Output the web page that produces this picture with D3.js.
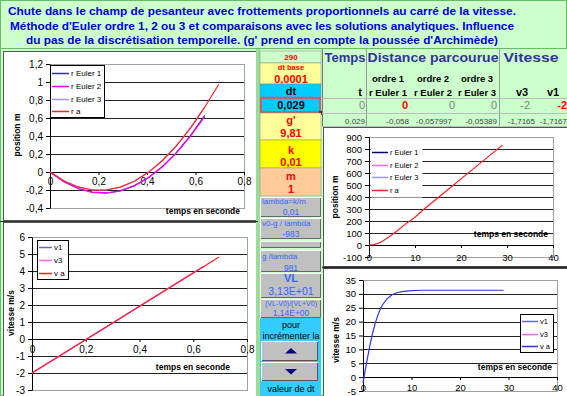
<!DOCTYPE html>
<html>
<head>
<meta charset="utf-8">
<script src="https://d3js.org/d3.v7.min.js"></script>
<style>
  body { margin: 0; background: #ccffcc; overflow: hidden; }
  text { font-family: "Liberation Sans", Arial, sans-serif; }
</style>
</head>
<body>
<svg id="sheet" width="567" height="396"></svg>
<script>
// ---- data ----
const titleLines = [
  "Chute dans le champ de pesanteur avec frottements proportionnels au carré de la vitesse.",
  "Méthode d'Euler ordre 1, 2 ou 3 et comparaisons avec les solutions analytiques. Influence",
  "du pas de la discrétisation temporelle. (g' prend en compte la poussée d'Archimède)"
];

// short run (dt = 0,029)
const tEuler = [0, 0.058, 0.116, 0.174, 0.232, 0.29, 0.348, 0.406, 0.464, 0.522, 0.58, 0.638];
const rEuler1 = [0, -0.108, -0.183, -0.224, -0.233, -0.209, -0.151, -0.061, 0.062, 0.218, 0.408, 0.630];
const rEuler2 = [0, -0.108, -0.184, -0.226, -0.235, -0.211, -0.153, -0.064, 0.058, 0.212, 0.400, 0.615];
const rEuler3 = [0, -0.100, -0.166, -0.200, -0.200, -0.168, -0.102, -0.004, 0.128, 0.292, 0.490, 0.720];
const tAnalytic = [0, 0.058, 0.116, 0.174, 0.232, 0.29, 0.348, 0.406, 0.464, 0.522, 0.58, 0.638, 0.696];
const rAnalytic = [0, -0.100, -0.166, -0.200, -0.200, -0.168, -0.102, -0.004, 0.128, 0.292, 0.490, 0.720, 0.975];
const tVitEuler = [0, 0.638];
const vEuler1 = [-2, 4.26];
const vEuler3 = [-2, 4.26];
const tVitA = [0, 0.696];
const vAnalytic = [-2, 4.83];

// long run
const tLong = [0, 1, 2, 3, 4, 5, 6, 8, 10, 12, 15, 18, 21, 24, 27, 29];
const rLong = [0, 3, 15, 34, 58, 86, 115, 176, 231, 300, 394, 488, 582, 676, 770, 832];
const tVLong = [0, 0.5, 1, 1.5, 2, 2.5, 3, 3.5, 4, 5, 6, 7, 8, 10, 12, 15, 20, 25, 29];
const vLong = [-2, 2.9, 7.6, 12.1, 16, 19.3, 22, 24.3, 26, 28.3, 29.7, 30.4, 30.8, 31.2, 31.3, 31.3, 31.3, 31.3, 31.3];

// tick labels
const xTicksShort = [0, 0.2, 0.4, 0.6, 0.8];
const yTicksPos = [-0.4, -0.2, 0, 0.2, 0.4, 0.6, 0.8, 1, 1.2];
const yTicksVit = [-3, -2, -1, 0, 1, 2, 3, 4, 5, 6];
const xTicksLong = [0, 10, 20, 30, 40];
const yTicksPosLong = [-100, 0, 100, 200, 300, 400, 500, 600, 700, 800, 900];
const yTicksVitLong = [-5, 0, 5, 10, 15, 20, 25, 30, 35];

const posNames = ["r Euler 1", "r Euler 2", "r Euler 3", "r a"];
const vitNames = ["v1", "v3", "v a"];

// table
const tableHeaders = ["Temps", "Distance parcourue", "Vitesse"];
const orderLabels = ["ordre 1", "ordre 2", "ordre 3"];
const colLabels = ["t", "r Euler 1", "r Euler 2", "r Euler 3", "v3", "v1"];
const row0 = ["0", "0", "0", "0", "-2", "-2"];
const row1 = ["0,029", "-0,058", "-0,057997", "-0,05389", "-1,7165", "-1,7167"];

// parameter column: [text, centre y, size, weight, colour, align]
const paramCells = [
  { y0: 51, y1: 63, bg: "#ccffcc", lines: [["290", 57, 8, "bold", "#ff0000", "c"]] },
  { y0: 63, y1: 84, bg: "#ffff99", lines: [["dt base", 67, 7.5, "bold", "#ff0000", "c"], ["0,0001", 79, 11, "bold", "#ff0000", "c"]] },
  { y0: 84, y1: 97, bg: "#00ccff", lines: [["dt", 91, 11, "bold", "#000", "c"]] },
  { y0: 97, y1: 113, bg: "#00ccff", lines: [["0,029", 105, 11, "bold", "#000", "c"]], sel: true },
  { y0: 113, y1: 140, bg: "#ffff99", lines: [["g'", 120, 11, "bold", "#ff0000", "c"], ["9,81", 133, 11, "bold", "#ff0000", "c"]] },
  { y0: 140, y1: 168, bg: "#ffff00", lines: [["k", 150, 11, "bold", "#ff0000", "c"], ["0,01", 162.5, 11, "bold", "#ff0000", "c"]] },
  { y0: 168, y1: 196, bg: "#ffcc99", lines: [["m", 176, 11, "bold", "#ff0000", "c"], ["1", 189, 11, "bold", "#ff0000", "c"]] },
  { y0: 197, y1: 217, bg: "#c0c0c0", bevel: true, lines: [["lambda=k/m", 201, 8, "normal", "#3366ff", "l"], ["0,01", 211.5, 8.5, "normal", "#3366ff", "c"]] },
  { y0: 218, y1: 239, bg: "#c0c0c0", bevel: true, lines: [["v0-g / lambda", 223, 8, "normal", "#3366ff", "l"], ["-983", 234, 8.5, "normal", "#3366ff", "c"]] },
  { y0: 241, y1: 248, bg: "#c0c0c0", bevel: true, lines: [] },
  { y0: 250, y1: 272, bg: "#c0c0c0", bevel: true, lines: [["g /lambda", 256, 8, "normal", "#3366ff", "l"], ["981", 267.5, 8.5, "normal", "#3366ff", "c"]] },
  { y0: 273, y1: 298, bg: "#c0c0c0", bevel: true, lines: [["VL", 278, 11, "bold", "#3366ff", "c"], ["3,13E+01", 291, 10.5, "normal", "#3366ff", "c"]] },
  { y0: 299, y1: 318, bg: "#c0c0c0", bevel: true, lines: [["(VL-V0)/(VL+V0)", 303, 7, "normal", "#3366ff", "c"], ["1,14E+00", 313, 8.5, "normal", "#3366ff", "c"]] }
];
const spinLabels = ["pour", "incrémenter la", "valeur de dt"];

const svg = d3.select("#sheet");
const fmt = v => String(v).replace(".", ",");

// ---- background / title ----
svg.append("rect").attr("x", 0.5).attr("y", 0.5).attr("width", 566).attr("height", 395)
  .attr("fill", "#ccffcc").attr("stroke", "#66bb66");
svg.append("line").attr("x1", 0).attr("x2", 567).attr("y1", 48.5).attr("y2", 48.5)
  .attr("stroke", "#66bb66");
const titleW = [508, 504, 472];
svg.selectAll("text.title").data(titleLines).join("text")
  .attr("class", "title")
  .attr("x", 262).attr("y", (d, i) => 15 + i * 14.5)
  .attr("text-anchor", "middle")
  .attr("font-size", 11.5).attr("font-weight", "bold").attr("fill", "#0000dd")
  .attr("textLength", (d, i) => titleW[i]).attr("lengthAdjust", "spacingAndGlyphs")
  .text(d => d);

// ---- generic Excel-like chart ----
function excelChart(c) {
  const g = svg.append("g");
  g.append("rect").attr("x", c.frame[0] + 0.5).attr("y", c.frame[1] + 0.5)
    .attr("width", c.frame[2]).attr("height", c.frame[3])
    .attr("fill", "#fff").attr("stroke", "#555");
  const x = d3.scaleLinear().domain(c.xDomain).range([c.plot[0], c.plot[1]]);
  const y = d3.scaleLinear().domain(c.yDomain).range([c.plot[3], c.plot[2]]);

  g.append("rect")
    .attr("x", c.plot[0] + 0.5).attr("y", c.plot[2] + 0.5)
    .attr("width", c.plot[1] - c.plot[0]).attr("height", c.plot[3] - c.plot[2])
    .attr("fill", "none").attr("stroke", "#a0a0a0");

  const inner = c.yTicks.filter(v => v !== 0 && v !== c.yDomain[0] && v !== c.yDomain[1]);
  g.selectAll("line.grid").data(inner).join("line")
    .attr("x1", c.plot[0]).attr("x2", c.plot[1])
    .attr("y1", d => Math.round(y(d)) + 0.5).attr("y2", d => Math.round(y(d)) + 0.5)
    .attr("stroke", "#222").attr("stroke-width", 1);

  const yAx = g.append("g").attr("transform", `translate(${Math.round(x(0))},0)`)
    .call(d3.axisLeft(y).tickValues(c.yTicks).tickFormat(fmt).tickSize(4).tickSizeOuter(0).tickPadding(3));
  const xAx = g.append("g").attr("transform", `translate(0,${Math.round(y(0))})`)
    .call(d3.axisBottom(x).tickValues(c.xTicks).tickFormat(fmt).tickSize(3).tickSizeOuter(0).tickPadding(c.xPad));
  [yAx, xAx].forEach(a => {
    a.selectAll("text").attr("font-size", c.fs).attr("fill", "#000")
      .attr("font-family", "'Liberation Sans', Arial, sans-serif");
    a.selectAll("path,line").attr("stroke", "#000");
  });

  const line = d3.line().x(d => x(d[0])).y(d => y(d[1]));
  c.series.forEach(s => {
    g.append("path").datum(d3.zip(s.t, s.v)).attr("d", line)
      .attr("fill", "none").attr("stroke", s.color).attr("stroke-width", 1.2);
  });

  // legend
  const L = c.legend;
  g.append("rect").attr("x", L.box[0] + 0.5).attr("y", L.box[1] + 0.5)
    .attr("width", L.box[2]).attr("height", L.box[3])
    .attr("fill", "#fff").attr("stroke", L.border ? "#000" : "none");
  L.names.forEach((n, i) => {
    const yy = L.rows[i];
    g.append("line").attr("x1", L.sample[0]).attr("x2", L.sample[1])
      .attr("y1", yy + 0.5).attr("y2", yy + 0.5)
      .attr("stroke", L.colors[i]).attr("stroke-width", 1.5);
    g.append("text").attr("x", L.sample[1] + 2).attr("y", yy + 3)
      .attr("font-size", L.fs).text(n);
  });

  // axis titles
  g.append("text").attr("x", c.xTitle[0]).attr("y", c.xTitle[1])
    .attr("text-anchor", "end").attr("font-size", 8.5).attr("font-weight", "bold")
    .text("temps en seconde");
  g.append("text").attr("transform", `translate(${c.yTitle[0]},${c.yTitle[1]}) rotate(-90)`)
    .attr("text-anchor", "middle").attr("font-size", 8.5).attr("font-weight", "bold")
    .text(c.yLabel);
}

// top-left: position, short run
excelChart({
  frame: [3, 51, 253, 169], plot: [50, 244, 64, 208],
  xDomain: [0, 0.8], yDomain: [-0.4, 1.2], xTicks: xTicksShort, yTicks: yTicksPos,
  fs: 10, xPad: 3,
  series: [
    { t: tEuler, v: rEuler1, color: "#333399" },
    { t: tEuler, v: rEuler3, color: "#9999ff" },
    { t: tEuler, v: rEuler2, color: "#ff00ff" },
    { t: tAnalytic, v: rAnalytic, color: "#ff2020" }
  ],
  legend: { box: [50, 65, 54, 52], border: true, rows: [73, 86, 99, 111], sample: [52, 69], fs: 8,
    names: posNames, colors: ["#333399", "#ff00ff", "#9999ff", "#ff2020"] },
  xTitle: [240, 214], yTitle: [20, 135], yLabel: "position m"
});

// bottom-left: speed, short run
excelChart({
  frame: [3, 222, 253, 176], plot: [32, 247, 237, 390],
  xDomain: [0, 0.8], yDomain: [-3, 6], xTicks: xTicksShort, yTicks: yTicksVit,
  fs: 10, xPad: 4,
  series: [
    { t: tVitEuler, v: vEuler1, color: "#6666cc" },
    { t: tVitEuler, v: vEuler3, color: "#ff66ff" },
    { t: tVitA, v: vAnalytic, color: "#ff2020" }
  ],
  legend: { box: [37, 240, 31, 39], border: true, rows: [247, 260, 273], sample: [39, 52], fs: 8,
    names: vitNames, colors: ["#6666cc", "#ff66ff", "#ff2020"] },
  xTitle: [230, 370], yTitle: [14, 313], yLabel: "vitesse m/s"
});

// top-right: position, long run
excelChart({
  frame: [323, 127, 245, 139], plot: [369, 553, 137, 257],
  xDomain: [0, 40], yDomain: [-100, 900], xTicks: xTicksLong, yTicks: yTicksPosLong,
  fs: 9.5, xPad: 6,
  series: [
    { t: tLong, v: rLong, color: "#ff2020" }
  ],
  legend: { box: [370, 144, 52, 53], border: false, rows: [152, 165, 177, 190], sample: [372, 388], fs: 7.5,
    names: posNames, colors: ["#000080", "#ff66ff", "#9999ff", "#ff2020"] },
  xTitle: [548, 237], yTitle: [338, 197], yLabel: "position m"
});

// bottom-right: speed, long run
excelChart({
  frame: [323, 268, 245, 130], plot: [363, 557, 280, 391],
  xDomain: [0, 40], yDomain: [-5, 35], xTicks: xTicksLong, yTicks: yTicksVitLong,
  fs: 9.5, xPad: 4,
  series: [
    { t: tVLong, v: vLong, color: "#3333ee" }
  ],
  legend: { box: [520, 314, 33, 38], border: true, rows: [321, 334, 346], sample: [522, 538], fs: 7.5,
    names: vitNames, colors: ["#6666ff", "#ff66ff", "#3333ee"] },
  xTitle: [552, 370], yTitle: [339, 340], yLabel: "vitesse m/s"
});

// ---- parameter column ----
const colX0 = 260, colX1 = 321, colMid = 291;
svg.append("rect").attr("x", 256).attr("y", 49).attr("width", 4).attr("height", 347).attr("fill", "#99dd99");
paramCells.forEach(c => {
  svg.append("rect").attr("x", colX0).attr("y", c.y0).attr("width", colX1 - colX0).attr("height", c.y1 - c.y0)
    .attr("fill", c.bg).attr("stroke", c.bevel ? "none" : "#888").attr("stroke-width", 0.5);
  if (c.bevel) {
    svg.append("path").attr("d", `M${colX0 + 0.5},${c.y1}V${c.y0 + 0.5}H${colX1}`).attr("fill", "none").attr("stroke", "#fff");
    svg.append("path").attr("d", `M${colX0 + 1},${c.y1 - 0.5}H${colX1 - 0.5}V${c.y0 + 1}`).attr("fill", "none").attr("stroke", "#666");
  }
  if (c.sel) {
    svg.append("rect").attr("x", colX0 + 1).attr("y", c.y0 + 1).attr("width", colX1 - colX0 - 2).attr("height", c.y1 - c.y0 - 2)
      .attr("fill", "none").attr("stroke", "#ff4040").attr("stroke-width", 1.5);
    svg.append("rect").attr("x", colX1 - 2).attr("y", c.y1 - 2).attr("width", 4).attr("height", 4).attr("fill", "#333");
  }
  c.lines.forEach(([txt, yy, fs, fw, col, al]) => {
    svg.append("text").attr("x", al === "l" ? colX0 + 2 : colMid).attr("y", yy + fs * 0.36)
      .attr("text-anchor", al === "l" ? "start" : "middle")
      .attr("font-size", fs).attr("font-weight", fw).attr("fill", col).text(txt);
  });
});
// spin area
svg.append("rect").attr("x", colX0).attr("y", 318).attr("width", colX1 - colX0).attr("height", 78).attr("fill", "#33ccff");
[[spinLabels[0], 325], [spinLabels[1], 336], [spinLabels[2], 389]].forEach(([t, yy]) => {
  svg.append("text").attr("x", colMid).attr("y", yy + 3.3).attr("text-anchor", "middle")
    .attr("font-size", 9).attr("fill", "#000").text(t);
});
[[341, 361, true], [362, 381, false]].forEach(([y0, y1, up]) => {
  svg.append("rect").attr("x", 261).attr("y", y0).attr("width", 57).attr("height", y1 - y0).attr("fill", "#c0c0c0");
  svg.append("path").attr("d", `M261.5,${y1}V${y0 + 0.5}H318`).attr("fill", "none").attr("stroke", "#fff");
  svg.append("path").attr("d", `M262,${y1 - 0.5}H317.5V${y0 + 1}`).attr("fill", "none").attr("stroke", "#555");
  const cy = (y0 + y1) / 2;
  svg.append("path").attr("d", up ? `M285,${cy + 2.5}L291,${cy - 3}L297,${cy + 2.5}Z` : `M285,${cy - 2.5}L291,${cy + 3}L297,${cy - 2.5}Z`)
    .attr("fill", "#000080");
});

// ---- results table ----
const tb = svg.append("g");
tb.append("rect").attr("x", 322).attr("y", 49).attr("width", 245).attr("height", 77).attr("fill", "#ccffcc");
[366.5, 499.5].forEach(xx => tb.append("line").attr("x1", xx).attr("x2", xx).attr("y1", 49).attr("y2", 126).attr("stroke", "#999"));
tb.append("line").attr("x1", 322.5).attr("x2", 322.5).attr("y1", 49).attr("y2", 126).attr("stroke", "#777");
[98.5, 113.5, 126.5].forEach(yy => tb.append("line").attr("x1", 322).attr("x2", 567).attr("y1", yy).attr("y2", yy).attr("stroke", "#bbb"));
const hdrX = [345, 433, 531], hdrW = [41, 131, 55];
tableHeaders.forEach((h, i) => {
  tb.append("text").attr("x", hdrX[i]).attr("y", 62).attr("text-anchor", "middle")
    .attr("font-size", 13).attr("font-weight", "bold").attr("fill", "#333399")
    .attr("textLength", hdrW[i]).attr("lengthAdjust", "spacingAndGlyphs").text(h);
});
const ordX = [388, 433, 477];
orderLabels.forEach((o, i) => tb.append("text").attr("x", ordX[i]).attr("y", 82).attr("text-anchor", "middle")
  .attr("font-size", 9.5).attr("font-weight", "bold").text(o));
const colX = [360, 388, 433, 477, 522, 553];
colLabels.forEach((c, i) => tb.append("text").attr("x", colX[i]).attr("y", 95.5).attr("text-anchor", "middle")
  .attr("font-size", i === 0 || i > 3 ? 11 : 9.5).attr("font-weight", "bold").text(c));
const r0X = [365, 405, 455, 497, 530, 567];
row0.forEach((v, i) => {
  const hot = i === 1 || i === 5;
  tb.append("text").attr("x", r0X[i]).attr("y", 109)
    .attr("text-anchor", i === 1 ? "middle" : "end")
    .attr("font-size", 11).attr("font-weight", hot ? "bold" : "normal")
    .attr("fill", hot ? "#ff0000" : "#808080").text(v);
});
const r1X = [365, 409, 452, 497, 535, 567];
row1.forEach((v, i) => tb.append("text").attr("x", r1X[i]).attr("y", 123.5).attr("text-anchor", "end")
  .attr("font-size", 8).attr("fill", "#444").text(v));

// separators between charts
svg.append("line").attr("x1", 0).attr("x2", 258).attr("y1", 221.5).attr("y2", 221.5).attr("stroke", "#333");
svg.append("line").attr("x1", 322).attr("x2", 567).attr("y1", 267.5).attr("y2", 267.5).attr("stroke", "#222").attr("stroke-width", 1.5);
</script>
</body>
</html>
